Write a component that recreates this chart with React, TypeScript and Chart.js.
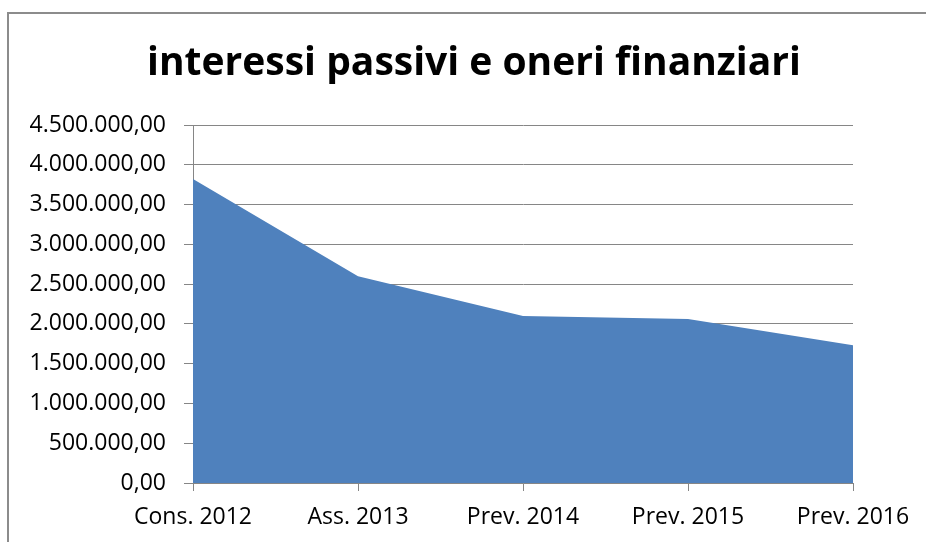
import React, { useEffect, useRef } from "react";
import { Chart, registerables } from "chart.js";

Chart.register(...registerables);

const title = "interessi passivi e oneri finanziari";
const categories = ["Cons. 2012", "Ass. 2013", "Prev. 2014", "Prev. 2015", "Prev. 2016"];
const values = [3820000, 2600000, 2100000, 2060000, 1730000];
const yMin = 0;
const yMax = 4500000;
const yStep = 500000;

function formatIt(v: number): string {
  const fixed = Math.abs(v).toFixed(2);
  const [intPart, dec] = fixed.split(".");
  const withDots = intPart.replace(/\B(?=(\d{3})+(?!\d))/g, ".");
  return (v < 0 ? "-" : "") + withDots + "," + dec;
}

const frameAndTitle = {
  id: "frameAndTitle",
  afterDraw(chart: any) {
    const ctx = chart.ctx;
    ctx.save();
    ctx.strokeStyle = "#8c8c8c";
    ctx.lineWidth = 2;
    ctx.beginPath();
    ctx.moveTo(8, chart.height + 5);
    ctx.lineTo(8, 13);
    ctx.lineTo(chart.width + 5, 13);
    ctx.stroke();
    ctx.fillStyle = "#000000";
    ctx.font = "bold 39px 'Open Sans'";
    ctx.textAlign = "center";
    ctx.textBaseline = "middle";
    ctx.fillText(title, 474, 64);
    ctx.restore();
  },
};

export default function App() {
  const ref = useRef<HTMLCanvasElement | null>(null);

  useEffect(() => {
    if (!ref.current) return;
    const gray = "#868686";
    const chart = new Chart(ref.current, {
      type: "line",
      data: {
        labels: categories,
        datasets: [
          {
            data: values,
            fill: "origin",
            backgroundColor: "#4F81BD",
            borderWidth: 0,
            borderColor: "#4F81BD",
            pointRadius: 0,
            tension: 0,
          },
        ],
      },
      plugins: [frameAndTitle],
      options: {
        animation: false,
        responsive: false,
        maintainAspectRatio: false,
        layout: { padding: { left: 0, right: 73, top: 125, bottom: 0 } },
        plugins: {
          legend: { display: false },
          tooltip: { enabled: false },
          title: { display: false },
        },
        scales: {
          x: {
            type: "category",
            offset: false,
            grid: {
              drawOnChartArea: false,
              drawTicks: true,
              tickLength: 8,
              color: gray,
            },
            border: { display: true, color: gray, width: 1 },
            ticks: {
              color: "#000000",
              font: { family: "'Open Sans'", size: 23 },
              padding: 13,
              maxRotation: 0,
              autoSkip: false,
            },
            afterFit: (scale: any) => {
              scale.height = 59;
            },
          },
          y: {
            min: yMin,
            max: yMax,
            grid: {
              drawOnChartArea: true,
              drawTicks: true,
              tickLength: 9,
              color: gray,
              lineWidth: 1,
            },
            border: { display: true, color: gray, width: 1 },
            ticks: {
              stepSize: yStep,
              color: "#000000",
              font: { family: "'Open Sans'", size: 23 },
              padding: 18,
              callback: (v: any) => formatIt(Number(v)),
            },
            afterFit: (scale: any) => {
              scale.width = 193;
            },
          },
        },
      },
    });
    return () => chart.destroy();
  }, []);

  return (
    <div
      style={{
        position: "absolute",
        left: 0,
        top: 0,
        width: 926,
        height: 542,
        overflow: "hidden",
        background: "#ffffff",
      }}
    >
      <canvas ref={ref} width={926} height={542} style={{ display: "block" }} />
    </div>
  );
}
